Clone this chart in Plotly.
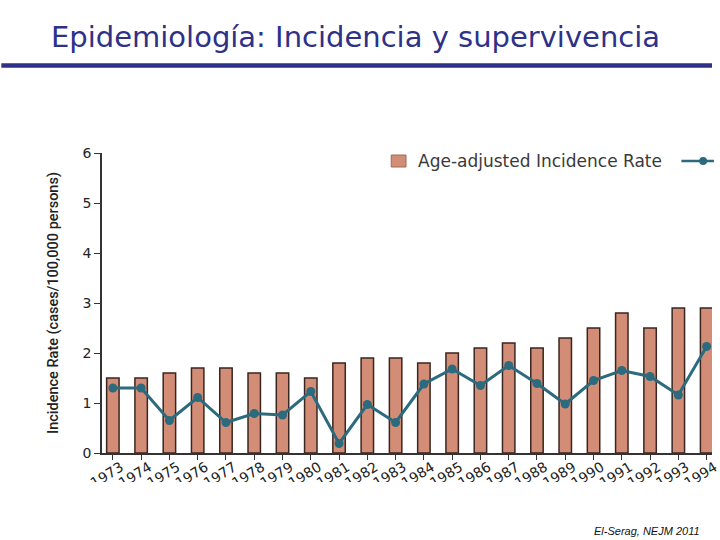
import plotly.graph_objects as go

years = [str(y) for y in range(1973, 1995)]
incidence = [1.5, 1.5, 1.6, 1.7, 1.7, 1.6, 1.6, 1.5, 1.8, 1.9, 1.9,
             1.8, 2.0, 2.1, 2.2, 2.1, 2.3, 2.5, 2.8, 2.5, 2.9, 2.9]
line_vals = [1.30, 1.30, 0.65, 1.11, 0.61, 0.79, 0.76, 1.23, 0.19, 0.97, 0.61,
             1.38, 1.68, 1.35, 1.75, 1.39, 0.98, 1.45, 1.65, 1.53, 1.16, 2.13]
y_ticks = [0, 1, 2, 3, 4, 5, 6]

W, H = 720, 540
L, R, T, B = 102, 0, 153, 87
pw, ph = W - L - R, H - T - B

def px(x):
    return (x - L) / pw

def py(y):
    return (H - B - y) / ph

bar_color = "#D38D77"
line_color = "#2C6A7D"
navy = "#2E3188"

fig = go.Figure()
fig.add_trace(go.Bar(
    x=years, y=incidence, width=0.44,
    marker=dict(color=bar_color, line=dict(color="#3a2621", width=1.5)),
    showlegend=False,
))
fig.add_trace(go.Scatter(
    x=years, y=line_vals, mode="lines+markers",
    line=dict(color=line_color, width=3),
    marker=dict(color=line_color, size=9),
    showlegend=False,
))

shapes = [
    # title underline
    dict(type="line", xref="paper", yref="paper", x0=px(0), x1=px(720), y0=py(65.5), y1=py(65.5),
         line=dict(color=navy, width=4.5)),
    # crop mask for x tick labels
    dict(type="rect", xref="paper", yref="paper", x0=px(0), x1=px(720), y0=py(482), y1=py(518),
         fillcolor="white", line=dict(width=0), layer="above"),
    # legend swatch
    dict(type="rect", xref="paper", yref="paper", x0=px(395), x1=px(410), y0=py(167), y1=py(155),
         fillcolor=bar_color, line=dict(color="#9a6a5c", width=1)),
    # legend line symbol
    dict(type="line", xref="paper", yref="paper", x0=px(689), x1=px(722), y0=py(161), y1=py(161),
         line=dict(color=line_color, width=2.5)),
    dict(type="circle", xref="paper", yref="paper", x0=px(707), x1=px(715), y0=py(165), y1=py(157),
         fillcolor=line_color, line=dict(width=0)),
]

annotations = [
    dict(text="Epidemiología: Incidencia y supervivencia", xref="paper", yref="paper",
         x=px(359), y=py(37), xanchor="center", yanchor="middle", showarrow=False,
         font=dict(family="DejaVu Sans", size=29, color=navy)),
    dict(text="Age-adjusted Incidence Rate", xref="paper", yref="paper",
         x=px(420), y=py(161), xanchor="left", yanchor="middle", showarrow=False,
         font=dict(family="DejaVu Sans", size=17, color="#3a3a3a")),
    dict(text="<i>El-Serag, NEJM 2011</i>", xref="paper", yref="paper",
         x=px(710), y=py(531), xanchor="right", yanchor="middle", showarrow=False,
         font=dict(family="Liberation Sans, Arial", size=11, color="#111")),
]

fig.update_layout(
    width=W, height=H,
    margin=dict(l=L, r=R, t=T, b=B),
    paper_bgcolor="white", plot_bgcolor="white",
    shapes=shapes, annotations=annotations,
    bargap=0.5,
)
fig.update_xaxes(
    range=[-0.384, 21.19], showgrid=False, showline=True, linecolor="#333", linewidth=1.5,
    ticks="outside", ticklen=5, tickcolor="#333", tickangle=-32,
    ticklabelstandoff=-6, ticklabelshift=8,
    tickfont=dict(family="DejaVu Sans", size=14, color="#222"),
)
fig.update_yaxes(
    range=[0, 6], tickvals=y_ticks, showgrid=False, zeroline=False, showline=True,
    linecolor="#333", linewidth=1.5, ticks="outside", ticklen=6, tickcolor="#333",
    tickfont=dict(family="DejaVu Sans", size=14, color="#222"),
    title=dict(text="Incidence Rate (cases/100,000 persons)", standoff=20,
               font=dict(family="Roboto", size=14.5, color="#222", weight=500)),
)

fig.write_html("out.html")
